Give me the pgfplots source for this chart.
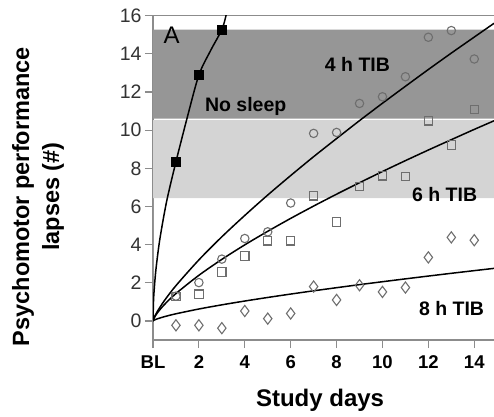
\documentclass[border=0pt]{standalone}
\usepackage{fontspec}
\setmainfont{Liberation Sans}
\usepackage{pgfplots}
\pgfplotsset{compat=1.18}
\definecolor{darkband}{HTML}{969696}
\definecolor{lightband}{HTML}{D4D4D4}
\definecolor{axgray}{HTML}{8C8C8C}
\definecolor{mkgray}{HTML}{6E6E6E}
\newcommand{\lab}{\fontsize{19.5bp}{20bp}\selectfont\bfseries}
\begin{document}
\begin{tikzpicture}
\useasboundingbox (0,0) rectangle (494bp,417bp);
\begin{axis}[
  at={(153bp,77bp)}, anchor=south west, scale only axis,
  width=341bp, height=324.3bp,
  xmin=0, xmax=14.86, ymin=-1, ymax=16,
  axis lines*=left,
  axis line style={axgray, line width=1.3bp},
  tick style={axgray, line width=1.2bp},
  tick align=outside, major tick length=8bp,
  xtick={0,2,4,6,8,10,12,14},
  xticklabels={BL,2,4,6,8,10,12,14},
  ytick={0,2,4,6,8,10,12,14,16},
  /pgf/number format/assume math mode=true,
  yticklabel style={font=\fontsize{19.5bp}{20bp}\selectfont, text=black!80},
  xticklabel style={font=\fontsize{18.5bp}{20bp}\selectfont\bfseries, yshift=-4bp},
  xlabel={Study days},
  xlabel style={at={(axis description cs:0.49,-0.185)}, anchor=center, font=\fontsize{24bp}{26bp}\selectfont\bfseries},
  ylabel={Psychomotor performance\\lapses (\#)},
  ylabel style={at={(axis description cs:-0.337,0.442)}, anchor=center, align=center, font=\fontsize{23.5bp}{30bp}\selectfont\bfseries},
  clip=true,
]
% bands
\addplot[draw=none, fill=darkband] coordinates {(0,10.6) (14.86,10.6) (14.86,15.27) (0,15.27)} \closedcycle;
\addplot[draw=none, fill=lightband] coordinates {(0,6.44) (14.86,6.44) (14.86,10.52) (0,10.52)} \closedcycle;
\draw[axgray, line width=1.3bp] (rel axis cs:0,1) -- (rel axis cs:1,1);

% fitted curves
\addplot[black, line width=1.5bp, smooth] coordinates {
(0,0) (0.02,0.97) (0.05,1.61) (0.13,2.72) (0.3,4.30) (0.6,6.30) (1,8.34) (1.5,10.7) (2,12.89) (2.5,14.15) (3,15.27) (3.18,16) (3.25,16.4)};
\addplot[black, line width=1.5bp, smooth] coordinates {
(0,0) (0.05,0.174) (0.2,0.519) (0.5,1.07) (1,1.85) (2,3.20) (3,4.41) (4,5.53) (5,6.60) (6,7.62) (7,8.61) (8,9.56) (9,10.50) (10,11.41) (11,12.30) (12,13.18) (13,14.04) (14,14.88) (14.86,15.60)};
\addplot[black, line width=1.5bp, smooth] coordinates {
(0,0) (0.05,0.158) (0.2,0.438) (0.5,0.861) (1,1.435) (2,2.392) (3,3.225) (4,3.988) (5,4.698) (6,5.375) (7,6.021) (8,6.644) (9,7.245) (10,7.832) (11,8.402) (12,8.959) (13,9.501) (14,10.04) (14.86,10.49)};
\addplot[black, line width=1.5bp, smooth] coordinates {
(0,0) (0.05,0.041) (0.2,0.114) (0.5,0.224) (1,0.374) (2,0.625) (3,0.843) (4,1.043) (5,1.230) (6,1.408) (7,1.579) (8,1.742) (9,1.902) (10,2.055) (11,2.205) (12,2.352) (13,2.496) (14,2.636) (14.86,2.755)};

% data: 4 h TIB (circles)
\addplot[only marks, mark=o, mark size=4.2bp, mark options={draw=mkgray, line width=1.1bp}] coordinates {
(1,1.3) (2,2.01) (3,3.24) (4,4.32) (5,4.67) (6,6.18) (7,9.83) (8,9.88) (9,11.40) (10,11.75) (11,12.80) (12,14.87) (13,15.22) (14,13.73)};
% 6 h TIB (squares)
\addplot[only marks, mark=square, mark size=4.2bp, mark options={draw=mkgray, line width=1.1bp}] coordinates {
(1,1.28) (2,1.40) (3,2.57) (4,3.41) (5,4.20) (6,4.20) (7,6.56) (8,5.19) (9,7.05) (10,7.61) (11,7.56) (12,10.49) (13,9.22) (14,11.07)};
% 8 h TIB (diamonds)
\addplot[only marks, mark=diamond, mark size=5.6bp, mark options={draw=mkgray, line width=1.1bp}] coordinates {
(1,-0.23) (2,-0.23) (3,-0.38) (4,0.52) (5,0.12) (6,0.39) (7,1.80) (8,1.10) (9,1.87) (10,1.52) (11,1.75) (12,3.33) (13,4.38) (14,4.23)};
% no sleep (filled squares)
\addplot[only marks, mark=square*, mark size=4.4bp, mark options={fill=black, draw=black}] coordinates {
(1,8.34) (2,12.89) (3,15.27)};

\node[anchor=base, font=\fontsize{24bp}{26bp}\selectfont] at (axis cs:0.81,14.52) {A};
\node[anchor=base, font=\lab] at (axis cs:8.91,13.06) {4 h TIB};
\node[anchor=base, font=\lab] at (axis cs:4.04,10.97) {No sleep};
\node[anchor=base, font=\lab] at (axis cs:12.71,6.24) {6 h TIB};
\node[anchor=base, font=\lab] at (axis cs:13.01,0.30) {8 h TIB};
\end{axis}
\end{tikzpicture}
\end{document}
